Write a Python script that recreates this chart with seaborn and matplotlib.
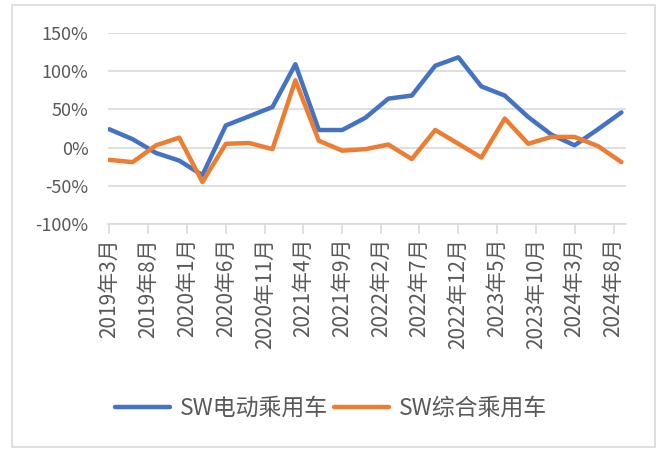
import pandas as pd
import seaborn as sns
import matplotlib
matplotlib.use('Agg')
import matplotlib.pyplot as plt
from matplotlib.patches import Rectangle
from matplotlib.ticker import FuncFormatter

# quarterly points, 2019-03 .. 2024-09
dates = pd.date_range('2019-03-01', '2024-09-01', freq='3MS')
ev_cars = [24, 11, -7, -17, -36, 29, 41, 53, 109, 23, 23, 39, 64, 68, 107,
           118, 80, 68, 40, 17, 3, 24, 46]
all_cars = [-16, -19, 3, 13, -45, 5, 6, -2, 88, 9, -4, -2, 4, -15, 23,
            5, -13, 38, 5, 14, 14, 2, -19]
series_names = ['SW电动乘用车', 'SW综合乘用车']
tick_dates = pd.date_range('2019-03-01', '2024-08-01', freq='5MS')
tick_labels = [f'{d.year}年{d.month}月' for d in tick_dates]

df = pd.concat([
    pd.DataFrame({'date': dates, 'value': ev_cars, 'series': series_names[0]}),
    pd.DataFrame({'date': dates, 'value': all_cars, 'series': series_names[1]}),
])

sns.set_style('white')
plt.rcParams['font.family'] = ['Noto Sans CJK SC', 'DejaVu Sans']
plt.rcParams['axes.unicode_minus'] = False

grey = '#595959'
light = '#D9D9D9'

fig = plt.figure(figsize=(6.62, 4.5), dpi=100)
ax = fig.add_axes([0.163, 0.502, 0.783, 0.425])

sns.lineplot(data=df, x='date', y='value', hue='series',
             palette=['#4472C4', '#ED7D31'], linewidth=3.2, ax=ax, legend=False)

ax.set_ylim(-100, 150)
ax.set_yticks(range(-100, 151, 50))
ax.yaxis.set_major_formatter(FuncFormatter(lambda v, p: f'{v:.0f}%'))
ax.set_xlim(pd.Timestamp('2019-02-24'), pd.Timestamp('2024-09-20'))
ax.set_xticks(tick_dates)
ax.set_xticklabels(tick_labels, rotation=90)

ax.grid(axis='y', color=light, linewidth=1.2)
ax.set_axisbelow(True)
for s in ['left', 'right', 'top']:
    ax.spines[s].set_visible(False)
ax.spines['bottom'].set_color(light)
ax.spines['bottom'].set_linewidth(1.2)
ax.tick_params(axis='x', colors=grey, labelsize=15, length=7, width=1.2,
               color=light, direction='out', bottom=True, pad=3)
ax.tick_params(axis='y', colors=grey, labelsize=13, length=0, pad=14)
ax.set_xlabel('')
ax.set_ylabel('')

handles = [plt.Line2D([], [], color=c, linewidth=3.2) for c in ['#4472C4', '#ED7D31']]
fig.legend(handles, series_names, loc='center', bbox_to_anchor=(0.5, 0.093),
           ncol=2, frameon=False, fontsize=16.5, handlelength=2.4,
           columnspacing=0.3, handletextpad=0.4, labelcolor=grey)

fig.patches.append(Rectangle((12 / 662, 3 / 450), 643 / 662, 442 / 450,
                             transform=fig.transFigure, fill=False,
                             edgecolor=light, linewidth=1.2))

fig.savefig('out.png', dpi=100)
